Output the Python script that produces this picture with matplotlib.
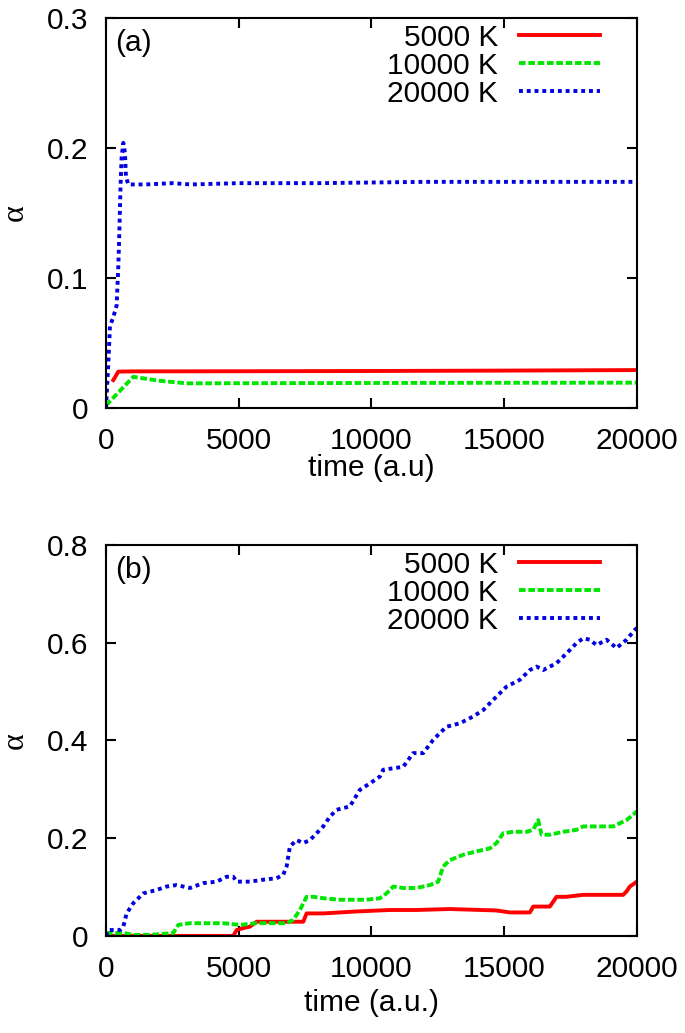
import matplotlib
matplotlib.use('Agg')
import matplotlib.pyplot as plt

plt.rcParams['font.family'] = ['Liberation Sans', 'DejaVu Sans']

# ---- panel (a) ----
a_t_5000 = [276, 465, 1000, 5000, 10000, 15000, 20000]
a_5000 = [0.0215, 0.028, 0.0282, 0.0283, 0.0285, 0.0288, 0.0292]
a_t_10000 = [0, 1030, 2000, 3038, 8000, 14000, 20000]
a_10000 = [0.002, 0.024, 0.021, 0.019, 0.0192, 0.0194, 0.0195]
a_t_20000 = [0, 88, 151, 276, 402, 465, 502, 552, 590, 653, 716, 753, 841,
             1500, 2500, 3200, 5000, 8000, 12000, 16000, 20000]
a_20000 = [0.0, 0.034, 0.063, 0.070, 0.079, 0.109, 0.134, 0.173, 0.193, 0.204,
           0.196, 0.178, 0.172, 0.172, 0.173, 0.172, 0.173, 0.173, 0.174, 0.174, 0.174]

# ---- panel (b) ----
b_t_5000 = [0, 4796, 4922, 5173, 5424, 5675, 7433, 7558, 8186, 9441, 10696, 11700,
            12956, 14713, 15216, 15970, 16095, 16723, 16974, 17350, 17978, 19485,
            19611, 19736, 19925, 20000]
b_5000 = [0.0, 0.0, 0.012, 0.016, 0.019, 0.029, 0.029, 0.046, 0.046, 0.050, 0.053, 0.053,
          0.055, 0.052, 0.048, 0.048, 0.060, 0.060, 0.080, 0.080, 0.084, 0.084,
          0.091, 0.101, 0.108, 0.111]
b_t_10000 = [0, 653, 1030, 1657, 2536, 2725, 3164, 4419, 5047, 5675, 6805, 7056, 7307,
             7558, 7810, 8186, 8814, 9441, 9818, 10320, 10571, 10822, 11198, 11700,
             12203, 12517, 12705, 12956, 13458, 13960, 14462, 14713, 14965, 15342,
             15844, 16095, 16283, 16409, 16723, 17225, 17727, 17978, 18481, 19108,
             19611, 19925, 20000]
b_10000 = [0.006, 0.006, 0.002, 0.002, 0.006, 0.0225, 0.026, 0.026, 0.0225, 0.026, 0.026,
           0.033, 0.053, 0.080, 0.080, 0.077, 0.074, 0.074, 0.074, 0.077, 0.087, 0.101,
           0.098, 0.098, 0.104, 0.111, 0.142, 0.155, 0.166, 0.173, 0.179, 0.190, 0.210,
           0.213, 0.213, 0.217, 0.237, 0.207, 0.207, 0.213, 0.217, 0.224, 0.224, 0.224,
           0.237, 0.251, 0.255]
b_t_20000 = [0, 88, 527, 653, 778, 1030, 1406, 1908, 2285, 2662, 3164, 3666, 4168,
             4545, 4796, 4922, 5424, 5926, 6428, 6679, 6805, 6930, 7182, 7433, 7684,
             7935, 8186, 8437, 8688, 9190, 9567, 9944, 10320, 10445, 10821, 11198,
             11575, 11951, 12328, 12580, 12831, 13333, 13835, 14211, 14588, 15090,
             15593, 15970, 16221, 16472, 16974, 17350, 17727, 17978, 18230, 18481,
             18858, 19234, 19611, 19925, 20000]
b_20000 = [0.0, 0.012, 0.012, 0.019, 0.046, 0.067, 0.087, 0.094, 0.101, 0.104, 0.098,
           0.108, 0.111, 0.121, 0.121, 0.111, 0.111, 0.115, 0.118, 0.125, 0.142, 0.183,
           0.196, 0.190, 0.196, 0.210, 0.224, 0.244, 0.258, 0.265, 0.299, 0.312, 0.326,
           0.340, 0.343, 0.346, 0.374, 0.374, 0.401, 0.415, 0.428, 0.435, 0.449, 0.462,
           0.483, 0.510, 0.524, 0.544, 0.551, 0.544, 0.558, 0.578, 0.599, 0.609, 0.606,
           0.595, 0.606, 0.589, 0.606, 0.626, 0.630]

labels = ['5000 K', '10000 K', '20000 K']
colors = ['#ff0000', '#00e600', '#0000e0']
styles = ['-', (0, (1.7, 0.7)), (0, (1.0, 1.0))]
FS = 21.5

fig = plt.figure(figsize=(6.85, 10.33), dpi=100)
ax1 = fig.add_axes([0.1547, 0.605, 0.775, 0.3775])
ax2 = fig.add_axes([0.1547, 0.094, 0.775, 0.3785])

def style_ax(ax, ymax, yticks, ylabels, xlabel, tag, data, xlpad):
    for (t, y), lab, c, ls in zip(data, labels, colors, styles):
        ax.plot(t, y, color=c, linestyle=ls, linewidth=2.8, label=lab)
    ax.set_xlim(0, 20000)
    ax.set_ylim(0, ymax)
    ax.set_xticks([0, 5000, 10000, 15000, 20000])
    ax.set_yticks(yticks)
    ax.set_yticklabels(ylabels)
    ax.tick_params(direction='in', length=7, width=1.5, top=True, right=True,
                   labelsize=FS)
    ax.tick_params(axis='x', pad=14)
    ax.tick_params(axis='y', pad=13)
    for s in ax.spines.values():
        s.set_linewidth(1.5)
    ax.set_xlabel(xlabel, fontsize=FS, labelpad=xlpad)
    ax.set_ylabel('α', fontsize=23, family=['Liberation Serif', 'DejaVu Serif'],
                  labelpad=12)
    ax.text(0.017, 0.972, tag, transform=ax.transAxes, fontsize=FS, va='top', ha='left')
    leg = ax.legend(loc='upper right', frameon=False, fontsize=FS, markerfirst=False,
                    handlelength=2.7, handletextpad=0.7, labelspacing=0.0,
                    borderpad=0.0, borderaxespad=0.0, bbox_to_anchor=(0.93, 0.985))
    for txt in leg.get_texts():
        txt.set_ha('right')
    return ax

style_ax(ax1, 0.3, [0, 0.1, 0.2, 0.3], ['0', '0.1', '0.2', '0.3'], 'time (a.u)', '(a)',
         [(a_t_5000, a_5000), (a_t_10000, a_10000), (a_t_20000, a_20000)], -1)
style_ax(ax2, 0.8, [0, 0.2, 0.4, 0.6, 0.8], ['0', '0.2', '0.4', '0.6', '0.8'],
         'time (a.u.)', '(b)',
         [(b_t_5000, b_5000), (b_t_10000, b_10000), (b_t_20000, b_20000)], 4)

fig.savefig('out.png', dpi=100)
